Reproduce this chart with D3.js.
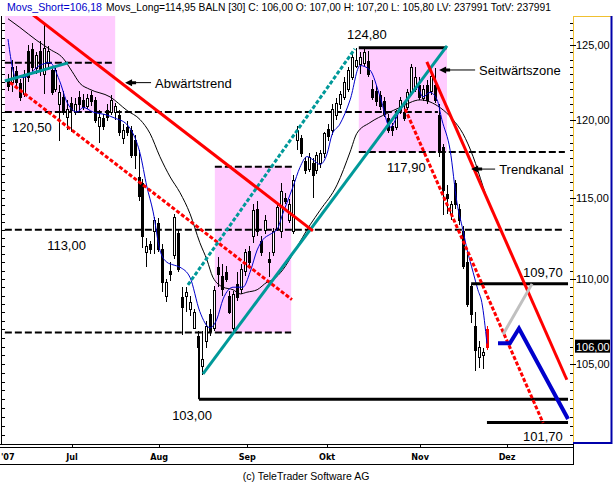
<!DOCTYPE html>
<meta charset="utf-8">
<style>
  body { margin: 0; padding: 0; background-color: white; }
  svg { display: block; background-color: white; }
  text { font-family: "Liberation Sans", Arial, sans-serif; }
</style>
<script src="https://cdn.jsdelivr.net/npm/d3@7"></script>
<svg id="vis"></svg>
<script>

var width = 613, height = 482;

// daily bars, 8 Jun 2007 .. 26 Nov 2007
const open = [122.6,122.5,123.2,122.4,121.7,124.6,124.7,123.4,124.6,123.0,
  123.8,123.3,122.0,121.0,121.5,120.2,121.1,120.5,121.5,121.3,
  120.9,121.6,121.3,119.6,120.1,120.6,120.5,120.5,120.3,118.8,
  119.5,119.3,118.7,116.3,115.9,111.6,112.1,112.9,113.4,111.8,
  109.0,110.5,111.45,112.8,108.9,109.0,108.2,107.1,106.6,104.9,
  106.3,107.9,107.1,110.7,110.2,110.4,109.0,107.1,109.7,109.4,
  110.5,111.7,112.6,114.3,112.3,113.0,111.2,111.6,113.1,112.9,
  115.0,113.6,112.9,118.7,118.8,117.3,116.8,117.2,116.75,117.2,
  117.8,119.4,119.3,120.3,121.0,121.5,122.0,122.8,123.6,123.7,
  123.8,123.9,122.0,121.9,121.6,121.2,120.1,119.6,119.5,120.6,
  120.5,120.8,121.8,122.0,122.3,121.4,122.3,121.9,122.3,120.3,
  118.2,115.2,114.0,115.9,114.3,112.9,111.0,109.6,107.2,105.4,105.5,107.0];
const high = [123.0,124.0,123.6,122.7,123.3,125.0,125.1,124.5,125.3,126.4,
  124.9,123.6,123.6,122.3,121.9,121.3,121.5,121.4,121.9,121.7,
  121.7,121.9,121.5,120.6,120.4,121.0,121.6,121.1,120.6,119.7,
  119.9,119.6,119.0,118.0,116.2,112.5,112.3,113.8,113.7,112.1,
  110.0,111.0,114.0,113.0,109.5,109.5,109.0,108.2,106.9,106.9,
  107.5,108.2,109.6,111.3,110.9,110.8,109.3,109.3,110.4,110.9,
  111.8,112.0,114.6,114.8,112.6,113.9,111.6,113.1,114.6,115.9,
  115.3,114.9,116.4,119.6,119.0,117.6,117.8,117.5,117.9,118.0,
  119.2,119.7,121.0,121.4,121.9,122.8,123.5,124.4,124.8,124.5,
  124.8,124.6,122.6,122.2,121.9,121.5,120.4,119.8,120.6,121.5,
  120.9,122.0,123.7,123.5,122.8,122.3,122.6,123.2,123.4,121.0,
  118.4,115.8,114.8,116.1,114.6,113.2,111.5,109.7,108.0,106.3,105.9,107.2];
const low = [121.9,121.8,122.2,121.2,121.5,122.5,123.2,123.0,122.9,121.7,
  123.5,121.6,121.8,118.6,120.3,119.3,119.2,120.3,120.5,120.6,
  120.7,120.9,119.8,118.5,119.3,119.9,120.3,120.0,118.9,118.4,
  118.9,117.5,116.8,114.8,111.9,110.7,111.5,111.5,111.6,109.2,
  108.6,109.9,111.2,110.4,106.7,108.0,107.8,107.0,105.4,104.4,
  105.9,106.6,106.9,109.5,109.0,109.8,107.9,106.9,108.7,109.1,
  110.2,110.7,112.2,112.6,111.4,112.7,110.1,111.4,112.9,112.5,
  114.6,113.4,112.7,118.0,117.6,116.5,116.6,115.0,116.5,116.9,
  117.5,118.6,119.0,120.0,120.7,121.3,121.8,122.6,123.4,123.0,
  123.6,122.8,121.3,120.9,120.6,120.2,119.1,118.9,119.3,120.4,
  119.9,120.6,121.6,121.8,121.3,121.2,121.0,121.6,121.1,117.6,
  113.9,114.0,113.6,114.3,113.3,110.6,108.3,107.4,104.6,104.8,104.7,105.8];
const close = [122.2,123.5,122.5,121.5,123.0,122.8,123.5,124.3,123.2,124.8,
  124.6,121.8,123.3,121.8,120.5,120.7,120.6,121.0,121.0,120.8,
  121.4,121.2,120.0,120.2,119.6,120.2,121.3,120.9,119.2,119.3,
  119.2,117.7,117.7,115.1,112.6,112.0,111.8,113.6,111.8,109.8,
  109.8,110.3,113.8,110.6,108.3,109.2,108.6,108.0,106.0,105.3,
  107.2,106.9,109.35,110.3,109.4,110.0,108.0,109.1,108.9,110.6,
  111.6,111.0,114.2,112.9,111.6,113.6,111.0,112.9,114.4,115.4,
  114.8,114.6,116.1,119.3,117.8,116.75,117.6,116.4,117.7,117.8,
  119.1,118.9,120.7,121.1,121.7,122.5,123.3,124.2,124.0,124.2,
  124.5,123.0,121.5,121.2,120.9,120.4,119.3,119.3,120.3,121.3,
  120.1,121.8,123.5,122.8,121.5,122.0,121.3,122.9,121.3,117.9,
  115.5,115.0,114.6,114.6,113.6,110.8,108.5,107.9,105.8,106.0,105.7,106.0];

// month ticks (bar index of first trading day)
const monthLabels = ["'07", "Jul", "Aug", "Sep", "Okt", "Nov", "Dez"];
const monthIdx = [-1.8, 16.2, 38.2, 60.5, 80.7, 104.2, 126.2];

// right axis
const majorTicks = [105, 110, 115, 120, 125];

// moving averages [bar index, value]
const maShort = [[0,125.4],[2,122.8],[4,122.8],[8,123.6],[10.6,123.8],[13,122.6],[15,121.1],[17.5,120.5],[19,120.8],
  [21.5,120.5],[25,120.3],[27,120.1],[30,119.7],[31.6,119.1],[33.4,117.8],[35.1,115.7],[36.7,114.1],[38.4,111.75],
  [40.2,111.0],[41.7,110.85],[43.5,110.7],[46,110.1],[48.5,108.05],[51.1,107.1],[52.8,107.6],[54.4,108.8],[56.9,109.5],
  [59.4,109.5],[61.2,110.4],[63,111.75],[64.5,112.4],[66.2,112.7],[68,113.0],[69.5,114.0],[72.1,115.7],[73.8,116.9],
  [75.6,117.6],[77.1,117.4],[78.9,117.1],[80.7,117.8],[81.9,119.0],[83.9,119.7],[86.5,121.3],[89,123.6],[91.5,123.3],
  [94.1,121.5],[96.6,119.5],[99.1,120.6],[101.6,121.5],[103.4,122.2],[104.9,121.5],[106.7,121.8],[108.5,121.3],
  [109.7,120.0],[111.8,118.0],[113.5,114.7],[115,113.0],[116.1,111.75],[117.6,110.4],[118.8,109.35],[119.8,108.6],[121.1,106.18]];
const maLong = [[0,126.8],[3,126.2],[7.3,125.3],[10.6,124.7],[13.9,124.1],[16.2,123.2],[18.2,122.4],[20.7,122.0],
  [25.8,121.5],[30.1,120.6],[33.4,120.0],[35.9,119.1],[38.4,117.6],[41,116.3],[43.5,115.3],[46,114.0],[48.5,112.2],
  [50.3,111.15],[51.8,110.1],[54.4,109.5],[56.9,109.35],[58.7,109.1],[60.4,109.2],[63,109.35],[65.5,109.8],[67,109.95],
  [69.5,110.55],[72.6,111.75],[76.4,113.3],[78.9,114.2],[83.2,115.8],[86.5,117.9],[88.2,119.1],[91.5,119.8],
  [95.8,120.4],[99.1,120.8],[104.2,121.3],[109.2,120.8],[112.5,120.0],[115,119.1],[117.6,117.6],[120.1,115.7],[121.1,114.95]];

// annotation levels
const dashedLevels = [
  {v: 123.78, from: -0.8, to: 26.5},
  {v: 120.50, from: -0.8, to: 108.7},
  {v: 117.90, from: 88.7, to: 140.8},
  {v: 116.95, from: 52.3, to: 71.8},
  {v: 113.00, from: -0.8, to: 140.8},
  {v: 106.83, from: -0.8, to: 71.6}
];
const solidLevels = [
  {v: 124.80, from: 88.7, to: 111.0},
  {v: 109.70, from: 117.1, to: 141.6},
  {v: 103.00, from: 48.3, to: 141.6},
  {v: 101.70, from: 121.1, to: 141.6}
];
const levelLabels = [
  {t: "120,50", i: 1.0, v: 120.50, dy: 20},
  {t: "113,00", i: 9.9, v: 113.00, dy: 20},
  {t: "103,00", i: 41.5, v: 103.00, dy: 21},
  {t: "124,80", i: 85.7, v: 124.80, dy: -9},
  {t: "117,90", i: 95.8, v: 117.90, dy: 20},
  {t: "109,70", i: 130.2, v: 109.70, dy: -7},
  {t: "101,70", i: 130.2, v: 101.70, dy: 19}
];
const zones = [
  {i0: -0.8, i1: 27.1, lo: 120.50, hi: 127.0},
  {i0: 52.3, i1: 71.6, lo: 106.83, hi: 116.95},
  {i0: 88.7, i1: 111.0, lo: 117.90, hi: 124.80}
];
// trend lines [[i, v], [i, v]]
const redLines = [[[6.3,127.07],[77.1,112.92]], [[105.9,123.84],[141.3,104.1]]];
const redDashed = [[[0.5,122.46],[71.8,108.76]], [[100.4,120.7],[135.3,101.67]]];
const tealLines = [[[-0.8,122.56],[15.2,123.78]], [[49.3,104.44],[111.0,124.93]]];
const tealDashed = [[[45.5,109.64],[87.7,124.73]]];
const grayLine = [[125.2,106.72],[132.5,109.7]];
const blueProj = [[123.9,106.2],[126.9,106.2],[129.2,107.06],[141.6,101.89]];
const notes = [
  {t: "Abwärtstrend", i: 29.6, v: 122.45, len: 26},
  {t: "Seitwärtszone", i: 109.0, v: 123.3, len: 36},
  {t: "Trendkanal", i: 117.1, v: 116.8, len: 24}
];

var svg = d3.select("svg").attr("width", width).attr("height", height);

var x = d3.scaleLinear().domain([0, 142]).range([8, 8 + 142 * 3.955]);
var y = d3.scaleLog().domain([100.62, 126.99]).range([442, 16]);

svg.append("clipPath").attr("id", "plot")
  .append("rect").attr("x", 2).attr("y", 16).attr("width", 571).attr("height", 427);

var g = svg.append("g").attr("clip-path", "url(#plot)");

// pink zones
g.selectAll(".zone").data(zones).enter().append("rect")
  .attr("x", d => x(d.i0)).attr("y", d => y(d.hi))
  .attr("width", d => x(d.i1) - x(d.i0)).attr("height", d => y(d.lo) - y(d.hi))
  .attr("fill", "#ffccff");

// dashed support / resistance
g.selectAll(".dl").data(dashedLevels).enter().append("line")
  .attr("x1", d => x(d.from)).attr("x2", d => x(d.to))
  .attr("y1", d => y(d.v)).attr("y2", d => y(d.v))
  .attr("stroke", "#000").attr("stroke-width", 2).attr("stroke-dasharray", "7,3");

// candles
var last = close.length - 1;
var bars = close.map((c, i) => ({i: i, o: open[i], h: high[i], l: low[i], c: c}));
var cg = g.append("g").attr("shape-rendering", "crispEdges");
var colorOf = d => d.i == last ? "#ff0000" : "#000";
cg.selectAll(".wick").data(bars).enter().append("line")
  .attr("x1", d => Math.round(x(d.i)) + 0.5).attr("x2", d => Math.round(x(d.i)) + 0.5)
  .attr("y1", d => y(d.h)).attr("y2", d => y(d.l))
  .attr("stroke", colorOf);
cg.selectAll(".body").data(bars).enter().append("rect")
  .attr("x", d => Math.round(x(d.i)) - 0.5).attr("width", 2)
  .attr("y", d => Math.round(y(Math.max(d.o, d.c))) + 0.5)
  .attr("height", d => Math.max(1, Math.round(y(Math.min(d.o, d.c))) - Math.round(y(Math.max(d.o, d.c)))))
  .attr("fill", d => d.i == last ? "#ff0000" : (d.c >= d.o ? "#fff" : "#000"))
  .attr("stroke", colorOf);

// moving averages
var line = d3.line().x(d => x(d[0])).y(d => y(d[1])).curve(d3.curveMonotoneX);
g.append("path").attr("d", line(maLong)).attr("fill", "none").attr("stroke", "#000").attr("stroke-width", 1);
g.append("path").attr("d", line(maShort)).attr("fill", "none").attr("stroke", "#0000cc").attr("stroke-width", 1);

// solid levels
g.selectAll(".sl").data(solidLevels).enter().append("line")
  .attr("x1", d => x(d.from)).attr("x2", d => x(d.to))
  .attr("y1", d => y(d.v)).attr("y2", d => y(d.v))
  .attr("stroke", "#000").attr("stroke-width", 3);
g.append("line").attr("x1", x(48.3)).attr("x2", x(48.3))
  .attr("y1", y(106.6)).attr("y2", y(103)).attr("stroke", "#000").attr("stroke-width", 2);

// trend lines
var seg = d3.line().x(d => x(d[0])).y(d => y(d[1]));
function draw(data, color, dash, w) {
  g.selectAll(null).data(data).enter().append("path")
    .attr("d", seg).attr("fill", "none").attr("stroke", color)
    .attr("stroke-width", w).attr("stroke-dasharray", dash);
}
draw(redDashed, "#ff0000", "4,2", 3);
draw(tealDashed, "#009999", "4,2", 3);
draw(tealLines, "#009999", null, 3);
draw(redLines, "#ff0000", null, 3);
draw([grayLine], "#c0c0c0", null, 3);
draw([blueProj], "#0000cc", null, 4);

// level labels
svg.selectAll(".lab").data(levelLabels).enter().append("text")
  .attr("x", d => x(d.i)).attr("y", d => y(d.v) + d.dy)
  .attr("font-size", 13).text(d => d.t);

// arrows with notes
notes.forEach(function(n) {
  var tx = x(n.i), ty = y(n.v);
  svg.append("path")
    .attr("d", "M" + tx + "," + ty + "l7,-3.5v2h4v3h-4v2z")
    .attr("fill", "#000");
  svg.append("line").attr("x1", tx + 10).attr("x2", tx + n.len).attr("y1", ty).attr("y2", ty)
    .attr("stroke", "#000").attr("stroke-width", 1);
  svg.append("text").attr("x", tx + n.len + 4).attr("y", ty + 5)
    .attr("font-size", 13).text(n.t);
});

// left axis
svg.append("line").attr("x1", 1.5).attr("x2", 1.5).attr("y1", 16).attr("y2", 444).attr("stroke", "#000");
var minor = d3.range(101, 127, 0.5);
svg.selectAll(".lt").data(minor).enter().append("line")
  .attr("x1", 1).attr("x2", 5).attr("y1", d => Math.round(y(d)) + 0.5).attr("y2", d => Math.round(y(d)) + 0.5)
  .attr("stroke", "#000");

// right axis panel
svg.append("line").attr("x1", 573.5).attr("x2", 573.5).attr("y1", 16).attr("y2", 443).attr("stroke", "#f0c030");
svg.append("line").attr("x1", 573).attr("x2", 612).attr("y1", 16.5).attr("y2", 16.5).attr("stroke", "#f0c030");
svg.append("line").attr("x1", 611.5).attr("x2", 611.5).attr("y1", 16).attr("y2", 444).attr("stroke", "#0000aa").attr("stroke-width", 2);
svg.append("line").attr("x1", 573).attr("x2", 612).attr("y1", 443).attr("y2", 443).attr("stroke", "#0000aa").attr("stroke-width", 2);
svg.selectAll(".rt").data(minor).enter().append("line")
  .attr("x1", 570).attr("x2", 573).attr("y1", d => Math.round(y(d)) + 0.5).attr("y2", d => Math.round(y(d)) + 0.5)
  .attr("stroke", "#000");
svg.selectAll(".rmt").data(majorTicks).enter().append("line")
  .attr("x1", 570).attr("x2", 576).attr("y1", d => Math.round(y(d)) + 0.5).attr("y2", d => Math.round(y(d)) + 0.5)
  .attr("stroke", "#000");
svg.selectAll(".rl").data(majorTicks).enter().append("text")
  .attr("x", 576).attr("y", d => y(d) + 4).attr("font-size", 11)
  .text(d => d3.format(".2f")(d).replace(".", ","));
// current close box
svg.append("rect").attr("x", 575).attr("y", y(close[last]) - 7).attr("width", 35).attr("height", 13).attr("fill", "#000");
svg.append("text").attr("x", 576).attr("y", y(close[last]) + 4).attr("font-size", 11).attr("fill", "#fff")
  .text(d3.format(".2f")(close[last]).replace(".", ","));

// x axis strip
svg.append("line").attr("x1", 0).attr("x2", 573).attr("y1", 444.5).attr("y2", 444.5).attr("stroke", "#000");
svg.append("line").attr("x1", 0).attr("x2", 573).attr("y1", 447.5).attr("y2", 447.5).attr("stroke", "#000");
svg.append("line").attr("x1", 0).attr("x2", 573).attr("y1", 464.5).attr("y2", 464.5).attr("stroke", "#000");
svg.append("line").attr("x1", 573.5).attr("x2", 573.5).attr("y1", 444).attr("y2", 465).attr("stroke", "#000");
svg.selectAll(".mt").data(monthIdx.slice(1)).enter().append("line")
  .attr("x1", d => Math.round(x(d)) + 0.5).attr("x2", d => Math.round(x(d)) + 0.5)
  .attr("y1", 444).attr("y2", 447).attr("stroke", "#000");
svg.selectAll(".ml").data(monthLabels).enter().append("text")
  .attr("x", (d, i) => x(monthIdx[i]))
  .attr("text-anchor", (d, i) => i == 0 ? "start" : "middle")
  .attr("y", 460).attr("font-size", 9).attr("font-weight", "bold")
  .style("font-family", "'Liberation Sans Narrow', 'DejaVu Sans Condensed', sans-serif")
  .text(d => d);

// header
svg.append("text").attr("x", 7).attr("y", 11).attr("font-size", 11).attr("fill", "#0000cc")
  .attr("textLength", 95).attr("lengthAdjust", "spacingAndGlyphs")
  .text("Movs_Short=106,18");
svg.append("text").attr("x", 106).attr("y", 11).attr("font-size", 11).attr("fill", "#000")
  .attr("textLength", 445).attr("lengthAdjust", "spacingAndGlyphs")
  .text("Movs_Long=114,95 BALN [30] C: 106,00 O: 107,00 H: 107,20 L: 105,80 LV: 237991 TotV: 237991");

svg.append("text").attr("x", 306).attr("y", 480).attr("text-anchor", "middle").attr("font-size", 10.5)
  .text("(c) TeleTrader Software AG");

</script>
